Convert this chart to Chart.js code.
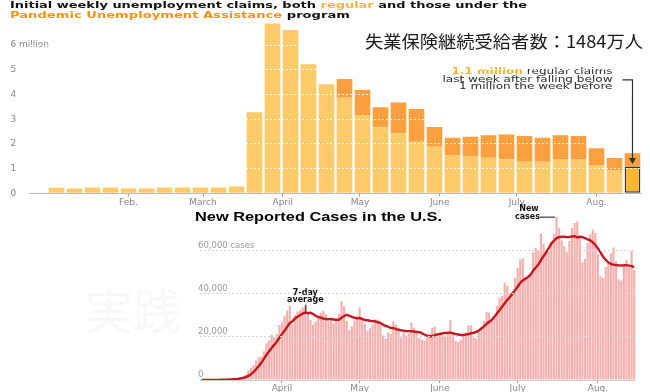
<!DOCTYPE html>
<html><head><meta charset="utf-8">
<script src="https://cdn.jsdelivr.net/npm/chart.js@4.4.0/dist/chart.umd.min.js"></script>
<style>
html,body{margin:0;padding:0;background:#fff;}
#wrap{position:relative;width:650px;height:392px;overflow:hidden;background:#fff;}
canvas{position:absolute;left:0;}
.t{position:absolute;white-space:nowrap;transform-origin:0 0;z-index:5;}
</style></head><body>
<div id="wrap">
<div class="t" style="left:85px;top:284px;font:48px/48px 'Noto Sans CJK JP';color:#f8f8f8;z-index:0">実践</div>
<canvas id="c1" width="650" height="212" style="top:0"></canvas>
<canvas id="c2" width="650" height="192" style="top:200px"></canvas>
<div class="t fit" data-w="517" style="left:10px;top:0;font:bold 9px/10px 'DejaVu Sans';color:#111">Initial weekly unemployment claims, both <span style="color:#FBB440">regular</span> and those under the</div>
<div class="t fit" data-w="340" style="left:10px;top:10px;font:bold 9px/10px 'DejaVu Sans';color:#111"><span style="color:#F7901E">Pandemic Unemployment Assistance</span> program</div>
<div class="t fit" data-w="278" style="left:365px;top:32px;font:17px/17px 'Noto Sans CJK JP';color:#1a1a1a">失業保険継続受給者数：1484万人</div>
<div class="t fit" data-w="247" style="left:195px;top:210px;font:bold 13px/13px 'Liberation Sans';color:#000">New Reported Cases in the U.S.</div>
</div>
<script>
// ===== Top chart: weekly initial claims (millions) =====
const weekLabels = ["Dec 28","Jan 4","Jan 11","Jan 18","Jan 25","Feb 1","Feb 8","Feb 15","Feb 22","Feb 29","Mar 7","Mar 14","Mar 21","Mar 28","Apr 4","Apr 11","Apr 18","Apr 25","May 2","May 9","May 16","May 23","May 30","Jun 6","Jun 13","Jun 20","Jun 27","Jul 4","Jul 11","Jul 18","Jul 25","Aug 1","Aug 8","Aug 15"];
const regularClaims = [null,0.22,0.19,0.23,0.23,0.19,0.19,0.23,0.23,0.23,0.23,0.28,3.28,6.87,6.61,5.22,4.41,3.87,3.17,2.67,2.43,2.09,1.88,1.54,1.51,1.44,1.38,1.28,1.28,1.39,1.39,1.15,0.94,1.08];
const puaClaims = [null,null,null,null,null,null,null,null,null,null,null,null,null,null,null,null,null,0.76,1.01,0.81,1.25,1.32,0.80,0.71,0.78,0.91,1.00,1.04,0.97,0.96,0.93,0.67,0.49,0.54];
const claimMonthNames = ["Feb.","March","April","May","June","July","Aug."];
const claimMonthPos = [5,9.14,13.57,17.86,22.29,26.57,31];

// ===== Bottom chart: daily new cases, Mar 1 - Aug 15 =====
const dailyCases = [
10,20,25,30,60,75,105,110,220,290,400,510,650,720,900,1300,1700,2600,4400,5700,6900,9000,10600,10800,13200,17000,18500,21000,19800,21500,25500,
26800,29800,32200,34500,26000,30200,31800,32500,33800,34200,30800,28000,25600,27200,29500,31200,32000,30500,27000,28200,26300,28800,30700,36500,34200,27400,23300,25000,27600,29700,
33800,29000,26200,23000,24200,25600,28200,28000,25500,20600,19200,22200,21300,27200,25600,24200,19600,22100,20600,21600,26500,24100,22100,19600,18800,18200,19600,21700,24300,24800,20600,
21100,20600,20100,21200,27800,22300,18200,17600,18600,21100,22200,25300,25400,19700,19300,22600,24300,27400,31600,31300,27600,29200,34500,38200,39100,45200,43600,40200,41300,47500,
52000,56000,56500,47500,47000,48500,59200,61200,60100,68000,63200,60500,59600,64200,67800,75800,70500,64800,62000,59300,64500,70500,72800,73600,66000,54500,56200,63500,67600,69800,68200,
58300,48200,47300,52400,54600,58800,61500,55200,46800,46200,53400,55600,52200,60000,51200];
const avg7 = [
10,15,20,25,35,45,60,80,100,140,190,260,340,420,540,720,950,1300,1900,2700,3700,5000,6400,8000,9800,11600,13300,14900,16300,17800,19600,
21300,22900,24700,26400,27200,28500,29400,30100,30800,31300,31000,31200,30600,29800,29300,28900,28500,28300,28200,28300,28100,27900,28000,28900,29700,30200,29800,29300,28900,28600,
28800,28300,27900,27700,27500,27300,27200,26800,26400,25700,25100,24700,24200,24100,23600,23300,23000,22900,22700,22700,22600,22500,22300,22200,21700,21100,20600,20300,20400,20800,21100,
21400,21700,21800,21900,22000,21700,21400,21100,20900,20900,21100,21300,21700,21900,22300,23000,23900,24900,26000,27000,27900,29300,30900,32400,34000,35600,37200,38500,40000,41700,
43300,45000,46200,47000,47800,49000,50700,52200,53600,55600,57500,59200,61200,63200,64600,65800,66300,66500,66500,66300,66400,66600,66700,66200,66500,66300,65800,65300,64800,63900,62600,
61000,59200,57200,55800,54600,53900,53500,53300,53200,53100,53200,53300,53100,52800,52300];
const caseMonthNames = ["April","May","June","July","Aug."];
const caseMonthPos = [31,61,92,122,153];
const caseDates = [];
(function(){const m=["Jan","Feb","Mar","Apr","May","Jun","Jul","Aug"];const d=new Date(2020,2,1);for(let i=0;i<dailyCases.length;i++){caseDates.push(m[d.getMonth()]+" "+d.getDate());d.setDate(d.getDate()+1);}})();

// fit HTML text widths
document.querySelectorAll('.fit').forEach(el=>{const w=+el.dataset.w;const nat=el.getBoundingClientRect().width;if(nat>0)el.style.transform='scaleX('+(w/nat)+')';});

const topAnnot = {id:'topAnnot', afterDatasetsDraw(chart){
  const {ctx, scales:{x,y}} = chart;
  const last = regularClaims.length-1;
  const xi = x.getPixelForValue(last);
  const yTop = y.getPixelForValue(regularClaims[last]);
  const R = xi - 20;
  ctx.save();
  ctx.textBaseline = 'middle';
  const l1a = '1.1 million', l1b = ' regular claims', l2 = 'last week after falling below', l3 = '1 million the week before';
  const nf = '8px "DejaVu Sans"', bf = 'bold 8px "DejaVu Sans"';
  ctx.font = nf;
  const sx = 170 / ctx.measureText(l2).width;
  const drawR = (txt, rx, yy, col, f) => {ctx.save();ctx.font=f;ctx.translate(rx, yy);ctx.scale(sx,1);ctx.textAlign='right';ctx.fillStyle=col;ctx.fillText(txt,0,0);ctx.restore();};
  const y1 = y.getPixelForValue(4.92), y2 = y.getPixelForValue(4.61), y3 = y.getPixelForValue(4.31);
  drawR(l1b, R, y1, '#2a2a2a', nf);
  ctx.font = nf;
  const wb = ctx.measureText(l1b).width*sx;
  drawR(l1a, R - wb, y1, '#F9B233', bf);
  drawR(l2, R, y2, '#2a2a2a', nf);
  drawR(l3, R, y3, '#2a2a2a', nf);
  ctx.strokeStyle = '#333'; ctx.lineWidth = 1.2;
  const ay = y2 + 0.5;
  ctx.beginPath(); ctx.moveTo(R+10, ay); ctx.lineTo(xi, ay); ctx.lineTo(xi, yTop-8); ctx.stroke();
  ctx.fillStyle = '#333';
  ctx.beginPath(); ctx.moveTo(xi, yTop-2.5); ctx.lineTo(xi-3.5, yTop-8.5); ctx.lineTo(xi+3.5, yTop-8.5); ctx.closePath(); ctx.fill();
  ctx.restore();
}};

new Chart(document.getElementById('c1'), {
  type:'bar',
  data:{labels:weekLabels, datasets:[
    {label:'Regular', data:regularClaims, xAxisID:'x', yAxisID:'y', stack:'s',
     backgroundColor: c => c.dataIndex===regularClaims.length-1 ? '#FDB72C' : '#FECB6B',
     borderColor:'#333', borderWidth: c => c.dataIndex===regularClaims.length-1 ? 1.5 : 0, borderSkipped:false,
     barPercentage:0.87, categoryPercentage:1},
    {label:'Pandemic Unemployment Assistance', data:puaClaims, xAxisID:'x', yAxisID:'y', stack:'s',
     backgroundColor:'#FBA03F', borderWidth:0, barPercentage:0.87, categoryPercentage:1}
  ]},
  options:{
    responsive:false, animation:false, events:[],
    layout:{padding:{left:29.5,right:8.5,top:20.4,bottom:0}},
    plugins:{legend:{display:false}, tooltip:{enabled:false}},
    scales:{
      x:{display:false, stacked:true},
      x2:{type:'linear', axis:'x', position:'bottom', min:-0.5, max:33.5, offset:false,
          afterBuildTicks: a => { a.ticks = claimMonthPos.map(v => ({value:v})); },
          ticks:{callback:(v,i)=>claimMonthNames[i], color:'#888', font:{family:'DejaVu Sans', size:9}, padding:1, autoSkip:false, maxRotation:0},
          grid:{offset:false, drawOnChartArea:false, drawTicks:true, tickLength:3, color:'#999'},
          border:{display:true, color:'#bbb'},
          afterFit: s => { s.height = 18.7; }},
      y:{stacked:true, min:0, max:7,
         afterBuildTicks: a => { a.ticks = a.ticks.filter(t => t.value <= 6); },
         ticks:{stepSize:1, mirror:true, padding:-19, color:'#888', font:{family:'DejaVu Sans', size:9}, callback: v => v===6 ? '6 million' : v},
         grid:{z:1, drawTicks:false, color: c => (c.tick && c.tick.value===0) ? 'rgba(0,0,0,0)' : 'rgba(255,255,255,0.9)'},
         border:{display:false, dash:[2,2]},
         afterFit: s => { s.width = 0; }}
    }
  },
  plugins:[topAnnot]
});

const bottomAnnot = {id:'bottomAnnot', afterDatasetsDraw(chart){
  const {ctx, scales:{x,y}} = chart;
  ctx.save();
  ctx.fillStyle = '#111'; ctx.strokeStyle = '#111'; ctx.lineWidth = 1;
  ctx.font = 'bold 8px "DejaVu Sans"'; ctx.textBaseline = 'middle'; ctx.textAlign = 'center';
  const ax = x.getPixelForValue(40), ay = y.getPixelForValue(avg7[40]);
  ctx.fillText('7-day', ax, ay-19.8);
  ctx.fillText('average', ax, ay-12.5);
  ctx.beginPath(); ctx.moveTo(ax+0.5, ay-8); ctx.lineTo(ax+0.5, ay-1); ctx.stroke();
  const nx = x.getPixelForValue(137), ny = y.getPixelForValue(dailyCases[137]);
  ctx.beginPath(); ctx.moveTo(nx-16.5, ny+0.5); ctx.lineTo(nx-1.5, ny+0.5); ctx.stroke();
  ctx.textAlign = 'right'; ctx.fillText('cases', nx-16.5, ny);
  ctx.textAlign = 'center'; ctx.fillText('New', nx-27.5, ny-7.4);
  ctx.restore();
}};

new Chart(document.getElementById('c2'), {
  type:'bar',
  data:{labels:caseDates, datasets:[
    {type:'line', label:'7-day average', data:avg7, xAxisID:'x', yAxisID:'y', borderColor:'#C8161D', borderWidth:2.4, pointRadius:0, tension:0.2, order:0},
    {type:'bar', label:'New cases', data:dailyCases, xAxisID:'x', yAxisID:'y', backgroundColor:'#F3B2B0', barPercentage:0.85, categoryPercentage:1, order:1}
  ]},
  options:{
    responsive:false, animation:false, events:[],
    layout:{padding:{left:200.4,right:14.5,top:7.6,bottom:0}},
    plugins:{legend:{display:false}, tooltip:{enabled:false}},
    scales:{
      x:{display:false},
      x2:{type:'linear', axis:'x', position:'bottom', min:-0.5, max:dailyCases.length-0.5, offset:false,
          afterBuildTicks: a => { a.ticks = caseMonthPos.map(v => ({value:v})); },
          ticks:{callback:(v,i)=>caseMonthNames[i], color:'#888', font:{family:'DejaVu Sans', size:9}, padding:0, autoSkip:false, maxRotation:0},
          grid:{offset:false, drawOnChartArea:false, drawTicks:true, tickLength:3, color:'#999'},
          border:{display:true, color:'#ccc'},
          afterFit: s => { s.height = 12; }},
      y:{min:0, max:80000,
         afterBuildTicks: a => { a.ticks = a.ticks.filter(t => t.value <= 60000); },
         ticks:{stepSize:20000, mirror:true, padding:-2.4, labelOffset:-5, color:'#999', font:{family:'DejaVu Sans', size:8.5},
                callback: v => v===60000 ? '60,000 cases' : v.toLocaleString('en-US')},
         grid:{z:1, drawTicks:false, color: c => (c.tick && c.tick.value===0) ? 'rgba(0,0,0,0)' : '#d6d6d6'},
         border:{display:false, dash:[2,2]},
         afterFit: s => { s.width = 0; }}
    }
  },
  plugins:[bottomAnnot]
});
</script>
</body></html>
